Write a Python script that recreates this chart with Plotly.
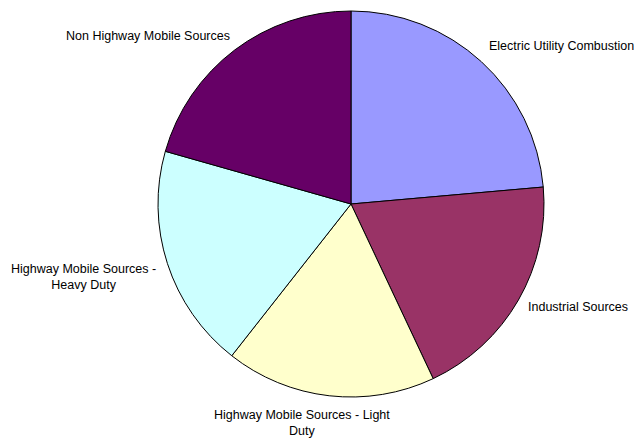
import plotly.graph_objects as go

categories = [
    "Electric Utility Combustion",
    "Industrial Sources",
    "Highway Mobile Sources - Light Duty",
    "Highway Mobile Sources - Heavy Duty",
    "Non Highway Mobile Sources",
]
values = [23.6, 19.4, 17.6, 18.8, 20.6]
label_texts = [
    "Electric Utility Combustion",
    "Industrial Sources",
    "Highway Mobile Sources - Light<br>Duty",
    "Highway Mobile Sources -<br>Heavy Duty",
    "Non Highway Mobile Sources",
]
colors = ["#9999FF", "#993366", "#FFFFCC", "#CCFFFF", "#660066"]

W, H = 634, 440
# label anchor positions in pixels (layout only)
label_pos = [
    (487, 46, "left"),
    (526, 307, "left"),
    (302, 423, "center"),
    (83, 277, "center"),
    (232, 36, "right"),
]

fig = go.Figure(
    go.Pie(
        labels=categories,
        values=values,
        sort=False,
        direction="clockwise",
        rotation=0,
        textinfo="none",
        hoverinfo="label+percent",
        marker=dict(colors=colors, line=dict(color="black", width=1)),
        domain=dict(x=[158 / W, 544 / W], y=[(H - 397) / H, (H - 11) / H]),
        showlegend=False,
    )
)

annotations = []
for txt, (px, py, anc) in zip(label_texts, label_pos):
    annotations.append(
        dict(
            text=txt,
            x=px / W,
            y=(H - py) / H,
            xref="paper",
            yref="paper",
            xanchor=anc,
            yanchor="middle",
            align="center",
            showarrow=False,
            font=dict(family="Liberation Sans, Arial, sans-serif", size=12.5, color="black"),
        )
    )

fig.update_layout(
    width=W,
    height=H,
    margin=dict(l=0, r=0, t=0, b=0),
    paper_bgcolor="white",
    plot_bgcolor="white",
    annotations=annotations,
)

fig.write_html(
    "out.html",
    config={"displayModeBar": False},
    post_script="document.body.style.margin='0';document.body.style.overflow='hidden';",
)
